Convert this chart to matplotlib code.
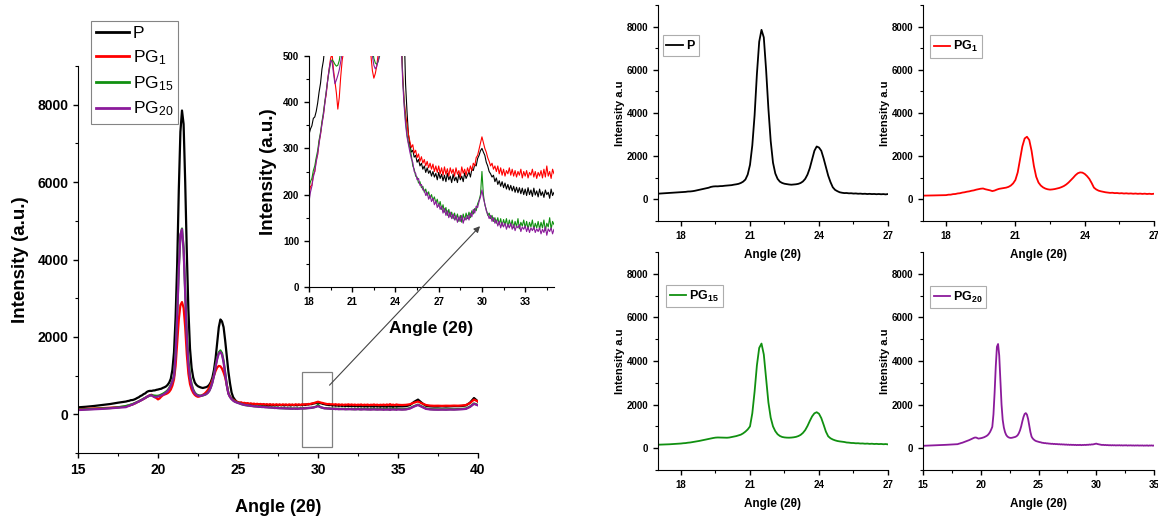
import numpy as np
import matplotlib
matplotlib.use("Agg")
import matplotlib.pyplot as plt
from matplotlib.patches import Rectangle
from matplotlib.ticker import MultipleLocator

plt.rcParams['font.family'] = ['Liberation Sans', 'DejaVu Sans']
plt.rcParams['mathtext.fontset'] = 'custom'
plt.rcParams['mathtext.rm'] = 'Liberation Sans'
plt.rcParams['mathtext.bf'] = 'Liberation Sans:bold'
plt.rcParams['mathtext.it'] = 'Liberation Sans:italic'
plt.rcParams['mathtext.default'] = 'regular'

# ---------------- data ----------------
series_names = ['P', 'PG1', 'PG15', 'PG20']
series_labels = ['P', 'PG$_{1}$', 'PG$_{15}$', 'PG$_{20}$']
series_bold_labels = [r'$\mathbf{P}$', r'$\mathbf{PG_{1}}$', r'$\mathbf{PG_{15}}$', r'$\mathbf{PG_{20}}$']
series_colors = ['#000000', '#ff0000', '#109010', '#8b1a9b']

# sampling grid of angles (2 theta)
angle_low = [15.0, 15.5, 16.0, 16.5, 17.0, 17.5]
angle_mid = list(np.round(np.arange(18.0, 35.0001, 0.1), 1))
angle_high = list(np.round(np.arange(35.25, 40.0001, 0.25), 2))
angle = np.array(angle_low + angle_mid + angle_high)

intensity_P = [
    180, 195, 215, 240, 265, 300,
    330, 342, 349, 365, 368, 380, 398, 422, 441, 472,
    490, 522, 540, 578, 598, 606, 604, 615, 618, 632,
    640, 652, 660, 682, 698, 720, 760, 820, 920, 1150,
    1600, 2500, 3900, 5800, 7300, 7850, 7500, 6000, 4200, 2700,
    1700, 1200, 950, 820, 760, 725, 705, 690, 680, 690,
    700, 720, 760, 830, 950, 1150, 1450, 1850, 2250, 2450,
    2400, 2250, 1900, 1500, 1100, 800, 560, 440, 380, 330,
    308, 292, 296, 281, 285, 270, 276, 262, 268, 255,
    262, 248, 258, 246, 252, 240, 250, 238, 246, 232,
    248, 235, 244, 230, 242, 228, 246, 232, 240, 226,
    244, 230, 238, 226, 245, 232, 240, 228, 247, 235,
    242, 250, 238, 255, 252, 265, 262, 278, 285, 295,
    300, 292, 285, 270, 262, 250, 245, 238, 242, 228,
    236, 222, 230, 218, 228, 215, 225, 212, 222, 210,
    220, 208, 218, 205, 216, 204, 215, 202, 214, 200,
    212, 198, 215, 200, 210, 196, 214, 199, 208, 195,
    212, 198, 206, 194, 210, 200, 205, 192, 212, 198,
    205,
    205, 210, 240, 320, 380, 290, 220, 205, 200, 200,
    205, 200, 205, 210, 210, 215, 230, 300, 420, 330,
]

intensity_PG1 = [
    130, 140, 150, 160, 170, 185,
    198, 218, 220, 243, 250, 275, 286, 315, 330, 356,
    372, 400, 418, 450, 472, 495, 505, 470, 445, 420,
    385, 410, 455, 490, 510, 525, 545, 580, 640, 740,
    900, 1250, 1850, 2450, 2820, 2900, 2750, 2250, 1550, 1050,
    780, 640, 555, 500, 468, 452, 462, 478, 505, 530,
    570, 620, 690, 780, 890, 1000, 1120, 1210, 1250, 1240,
    1180, 1080, 950, 760, 545, 460, 405, 375, 352, 330,
    315, 302, 308, 290, 296, 280, 288, 272, 282, 268,
    276, 262, 272, 258, 268, 255, 266, 250, 262, 248,
    262, 245, 258, 242, 260, 244, 256, 240, 258, 246,
    255, 240, 258, 244, 252, 238, 260, 246, 255, 242,
    258, 248, 262, 252, 268, 262, 280, 285, 298, 312,
    325, 312, 300, 292, 280, 272, 262, 268, 255, 262,
    250, 262, 245, 258, 242, 255, 240, 252, 245, 258,
    242, 255, 240, 252, 238, 250, 242, 255, 236, 250,
    240, 252, 236, 248, 242, 255, 238, 250, 235, 248,
    240, 252, 236, 255, 238, 262, 240, 250, 235, 255,
    245,
    240, 245, 260, 300, 330, 280, 240, 225, 220, 222,
    218, 222, 220, 225, 222, 228, 240, 290, 380, 330,
]

intensity_PG15 = [
    120, 130, 140, 150, 160, 180,
    215, 228, 235, 252, 262, 280, 295, 318, 335, 358,
    378, 402, 425, 448, 468, 485, 492, 488, 482, 478,
    480, 490, 510, 530, 555, 585, 620, 680, 760, 860,
    1000, 1600, 2600, 3800, 4600, 4800, 4300, 3200, 2100, 1400,
    1000, 780, 640, 560, 515, 495, 485, 482, 488, 500,
    520, 555, 610, 700, 830, 1020, 1250, 1460, 1600, 1650,
    1580, 1380, 1080, 760, 545, 455, 400, 360, 330, 312,
    300, 285, 262, 255, 240, 238, 225, 228, 215, 218,
    205, 212, 198, 206, 192, 200, 188, 195, 182, 190,
    175, 185, 168, 178, 162, 172, 155, 168, 152, 162,
    148, 160, 145, 158, 142, 155, 140, 158, 145, 160,
    148, 162, 150, 165, 158, 170, 165, 180, 188, 200,
    250, 200, 178, 168, 155, 160, 148, 155, 142, 150,
    138, 150, 135, 148, 132, 146, 135, 148, 130, 145,
    132, 145, 128, 142, 130, 148, 126, 140, 132, 145,
    128, 142, 125, 140, 130, 145, 125, 138, 128, 142,
    125, 140, 128, 145, 122, 138, 130, 150, 125, 142,
    135,
    130, 135, 160, 210, 250, 200, 150, 135, 130, 128,
    130, 128, 132, 130, 135, 140, 150, 200, 280, 240,
]

intensity_PG20 = [
    110, 120, 130, 140, 155, 170,
    185, 205, 218, 238, 250, 270, 288, 310, 332, 352,
    372, 398, 422, 448, 472, 490, 488, 462, 440, 448,
    458, 470, 488, 505, 530, 560, 600, 660, 740, 850,
    980, 1550, 2550, 3750, 4650, 4780, 4250, 3100, 2000, 1300,
    950, 740, 610, 540, 500, 480, 472, 478, 490, 505,
    520, 550, 600, 690, 820, 1000, 1230, 1430, 1570, 1610,
    1540, 1340, 1050, 740, 530, 445, 392, 352, 325, 308,
    292, 278, 270, 250, 246, 232, 235, 220, 222, 210,
    210, 198, 205, 190, 198, 185, 192, 178, 186, 172,
    180, 168, 175, 160, 170, 155, 165, 150, 162, 148,
    158, 145, 155, 140, 152, 142, 155, 138, 150, 145,
    155, 145, 160, 152, 168, 160, 175, 172, 185, 195,
    210, 192, 180, 165, 158, 148, 155, 142, 150, 138,
    145, 132, 142, 128, 140, 130, 138, 125, 136, 128,
    138, 125, 135, 122, 132, 128, 135, 120, 130, 125,
    132, 120, 130, 118, 128, 122, 130, 118, 126, 120,
    128, 115, 125, 118, 130, 112, 126, 120, 128, 115,
    125,
    120, 125, 150, 200, 240, 190, 140, 125, 120, 118,
    120, 118, 122, 120, 125, 130, 140, 190, 270, 230,
]

intensities = [intensity_P, intensity_PG1, intensity_PG15, intensity_PG20]
for arr in intensities:
    assert len(arr) == len(angle), (len(arr), len(angle))

# ---------------- figure ----------------
W, H = 1158, 521
fig = plt.figure(figsize=(W / 100, H / 100), dpi=100)


def px_axes(left, top, right, bottom):
    a = fig.add_axes([left / W, 1 - bottom / H, (right - left) / W, (bottom - top) / H])
    a.patch.set_alpha(0)
    return a


def style_axes(ax, labelsize):
    ax.spines['top'].set_visible(False)
    ax.spines['right'].set_visible(False)
    ax.tick_params(which='both', direction='out', labelsize=labelsize)
    ax.tick_params(which='major', length=3.5, width=1.0)
    ax.tick_params(which='minor', length=2, width=0.8)
    for lab in ax.get_xticklabels() + ax.get_yticklabels():
        lab.set_fontweight('bold')


# main axes
ax = px_axes(78, 66, 478, 453)
for y, c, lab in zip(intensities, series_colors, series_labels):
    ax.plot(angle, y, color=c, lw=1.6, label=lab)
ax.set_xlim(15, 40)
ax.set_ylim(-1000, 9000)
ax.set_xticks([15, 20, 25, 30, 35, 40])
ax.set_yticks([0, 2000, 4000, 6000, 8000])
ax.xaxis.set_minor_locator(MultipleLocator(2.5))
ax.yaxis.set_minor_locator(MultipleLocator(1000))
style_axes(ax, 10)
ax.set_xlabel('Angle (2θ)', fontsize=13, fontweight='bold', labelpad=16)
ax.set_ylabel('Intensity (a.u.)', fontsize=13.5, fontweight='bold', labelpad=6)
ax.add_patch(Rectangle((29.0, -850), 1.85, 1940, fill=False, ec='#808080', lw=0.9))
leg = fig.legend(*ax.get_legend_handles_labels(), loc='upper left',
                 bbox_to_anchor=(91 / W, 1 - 21 / H), fontsize=12.5, frameon=True,
                 fancybox=False, edgecolor='#666666', handlelength=1.9,
                 handletextpad=0.2, borderpad=0.3, labelspacing=0.4, borderaxespad=0)
leg.get_frame().set_linewidth(0.8)
for line in leg.get_lines():
    line.set_linewidth(2.0)

# inset axes
axi = px_axes(309, 56, 554, 287)
for y, c in zip(intensities, series_colors):
    axi.plot(angle, y, color=c, lw=0.8)
axi.set_xlim(18, 35)
axi.set_ylim(0, 500)
axi.set_xticks([18, 21, 24, 27, 30, 33])
axi.set_yticks([0, 100, 200, 300, 400, 500])
axi.xaxis.set_minor_locator(MultipleLocator(1.5))
axi.yaxis.set_minor_locator(MultipleLocator(50))
style_axes(axi, 7)
axi.set_xlabel('Angle (2θ)', fontsize=12.5, fontweight='bold', labelpad=10)
axi.set_ylabel('Intensity (a.u.)', fontsize=13.5, fontweight='bold', labelpad=4)

# arrow from box to inset
axi.annotate('', xy=(30.0, 136), xycoords=axi.transData,
             xytext=(30.6, 700), textcoords=ax.transData,
             arrowprops=dict(arrowstyle='-|>', color='#444444', lw=0.8, mutation_scale=9))

# small panels
panels = [
    (0, (658, 5, 888, 221), (17, 27), [18, 21, 24, 27], 1.5, (0.02, 0.86)),
    (1, (923, 5, 1154, 221), (17, 27), [18, 21, 24, 27], 1.5, (0.03, 0.86)),
    (2, (658, 252, 888, 470), (17, 27), [18, 21, 24, 27], 1.5, (0.035, 0.85)),
    (3, (923, 252, 1154, 470), (15, 35), [15, 20, 25, 30, 35], 2.5, (0.03, 0.845)),
]
for idx, box, xlim, xticks, xminor, legpos in panels:
    a = px_axes(*box)
    a.plot(angle, intensities[idx], color=series_colors[idx], lw=1.3,
           label=series_bold_labels[idx])
    a.set_xlim(*xlim)
    a.set_ylim(-1000, 9000)
    a.set_xticks(xticks)
    a.set_yticks([0, 2000, 4000, 6000, 8000])
    a.xaxis.set_minor_locator(MultipleLocator(xminor))
    a.yaxis.set_minor_locator(MultipleLocator(1000))
    style_axes(a, 7)
    a.set_xlabel('Angle (2θ)', fontsize=8.5, fontweight='bold', labelpad=6)
    a.set_ylabel('Intensity a.u', fontsize=8, fontweight='bold', labelpad=1)
    lg = a.legend(loc='upper left', bbox_to_anchor=legpos, fontsize=9,
                  frameon=True, fancybox=False, edgecolor='#999999',
                  handlelength=1.3, handletextpad=0.25, borderpad=0.3, borderaxespad=0)
    lg.get_frame().set_linewidth(0.8)

fig.savefig('out.png', dpi=100)
